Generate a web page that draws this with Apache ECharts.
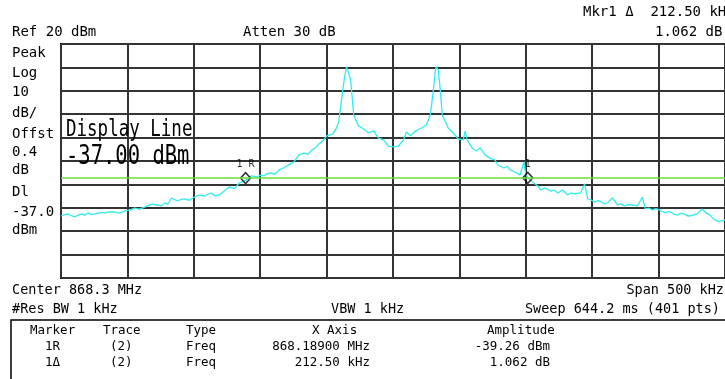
<!DOCTYPE html>
<html>
<head>
<meta charset="utf-8">
<title>Spectrum</title>
<script src="https://cdn.jsdelivr.net/npm/echarts@6/dist/echarts.min.js"></script>
<style>
  html, body { margin: 0; padding: 0; background: #fff; }
  #main { width: 725px; height: 379px; }
</style>
</head>
<body>
<div id="main"></div>
<script>
// trace 2 : frequency offset from start (868.05 MHz), kHz
var freqKHz = [0, 2.5, 5.2, 7.8, 10.5, 13, 15.7, 18, 20.2, 23, 25.5, 29, 33, 36.5, 40.5, 44, 48, 51.5, 55.5, 59,
    63, 68.2, 72.7, 75.5, 78, 80.5, 83.2, 87.7, 90.5, 93, 96.5, 100.5, 104, 108, 110.5, 113.2, 116, 119.2, 123,
    126.7, 130.5, 134.2, 139.4, 143.2, 147.7, 150.5, 153, 155.5, 158.2, 161, 164.2, 167, 170.2, 175.4, 179.2,
    182.9, 186, 188.9, 191.5, 194.2, 197, 200.1, 204.6, 207, 209.1, 211.4, 213.6, 215.1, 216.6, 218.1, 220.4,
    224.1, 227.9, 231.6, 235.4, 239.1, 242.9, 246.6, 250.4, 254.1, 257.9, 260.1, 263.1, 266.9, 271.4, 275.1,
    278.1, 280.4, 281.9, 282.6, 284.1, 285.6, 287.1, 291.6, 295.4, 299.1, 302.9, 304.3, 305.8, 309.6, 312.6,
    315.6, 319.3, 323.8, 326.5, 329.1, 333.6, 336, 338.1, 341.8, 345.6, 348.6, 350.1, 353.1, 356.9, 359, 361.3,
    364, 366.6, 369, 371.1, 374.1, 377.8, 381.6, 384, 386.8, 391.3, 394.3, 396.6, 399, 401.8, 404.5, 407, 409,
    411.5, 415.3, 419, 421.5, 424.3, 427, 430.3, 434, 437.8, 440, 442.5, 445.3, 448, 450.5, 453, 455, 457.5,
    460.3, 462, 464, 466.5, 469.3, 471.5, 473.8, 476.5, 479, 482.8, 485.8, 488.8, 490.5, 492.5, 495, 497.8, 500];
// trace 2 : level, dBm
var levelDbm = [-53.5, -53, -52.6, -53.4, -53.9, -53.1, -52.6, -53.2, -52.2, -52.9, -52.6, -52.1, -52.2, -51.7,
    -51.8, -52.3, -51.4, -51, -50.1, -50.6, -49.7, -48.4, -48.8, -49.2, -47.9, -48.5, -45.8, -47.1, -46.4,
    -46.2, -46.8, -45.4, -44.6, -45, -44.2, -43.7, -44.9, -44.5, -42.8, -41.1, -41.8, -39.4, -38.1, -36.4,
    -36.8, -36, -36.4, -35.4, -35.1, -35.7, -33.8, -33.1, -32.1, -30.4, -27.4, -26.6, -27.2, -25.3, -24.4,
    -22.7, -21.5, -19.3, -18.5, -16.4, -13.3, -3.1, 6.3, 10.2, 10.2, 4.6, -10.3, -15, -16.3, -18, -17.1, -20.2,
    -21, -23.6, -24, -23.6, -21, -17.6, -19.2, -17.2, -15.9, -14.6, -10.3, 0.3, 8.9, 10.2, 8.9, 0.3, -10.3,
    -15.9, -18, -20.6, -21, -17.2, -21, -24.4, -25.7, -24.4, -27.4, -29.1, -29.4, -31.7, -33, -32.3, -33.8,
    -34.7, -36, -30.4, -36, -38.1, -39.8, -40.6, -42.4, -41.6, -42, -42.9, -42.4, -43.7, -42.4, -44.5, -43.7,
    -44, -43.6, -39.8, -46.2, -46.6, -47.5, -46.9, -47.5, -48.3, -47.9, -45.8, -48.8, -48.3, -49.2, -48.6,
    -48.8, -49.2, -45.4, -50.5, -50.1, -50.9, -50.4, -50.9, -51.6, -52.2, -51.6, -52.2, -52.8, -53.1, -52.4,
    -52.6, -53.4, -53.5, -53, -52.6, -50.5, -52.2, -53.1, -54.2, -55.2, -55.8, -55.6, -55.2];

// markers (kHz offset, dBm as drawn) and their labels
var markerKHz = [139, 351.5];
var markerDbm = [-37.3, -37.2];
var markerNames = ['1 R', '1'];
var displayLine = -37;

var traceData = [];
for (var i = 0; i < freqKHz.length; i++) {
    traceData.push([freqKHz[i], levelDbm[i]]);
}
var markerData = [];
for (var j = 0; j < markerKHz.length; j++) {
    markerData.push({ value: [markerKHz[j], markerDbm[j]], name: markerNames[j] });
}

var MONO = '"DejaVu Sans Mono", "Liberation Mono", monospace';

// [text, x, y, size, align]
var labels = [
    ['Mkr1 \u0394  212.50 kHz', 583, 12, 14, 'left'],
    ['1.062 dB', 655, 32, 14, 'left'],
    ['Ref 20 dBm', 12, 32, 14, 'left'],
    ['Atten 30 dB', 243, 32, 14, 'left'],
    ['Peak', 12, 53, 14, 'left'],
    ['Log', 12, 73, 14, 'left'],
    ['10', 12, 92, 14, 'left'],
    ['dB/', 12, 113, 14, 'left'],
    ['Offst', 12, 134, 14, 'left'],
    ['0.4', 12, 152, 14, 'left'],
    ['dB', 12, 170, 14, 'left'],
    ['Dl', 12, 192, 14, 'left'],
    ['-37.0', 12, 212, 14, 'left'],
    ['dBm', 12, 230, 14, 'left'],
    ['Center 868.3 MHz', 12, 290, 13.5, 'left'],
    ['Span 500 kHz', 724, 290, 13.5, 'right'],
    ['#Res BW 1 kHz', 12, 309, 13.5, 'left'],
    ['VBW 1 kHz', 331, 309, 13.5, 'left'],
    ['Sweep 644.2 ms (401 pts)', 720, 309, 13.5, 'right'],
    // marker table
    ['Marker', 30, 331, 12.5, 'left'],
    ['Trace', 103, 331, 12.5, 'left'],
    ['Type', 186, 331, 12.5, 'left'],
    ['X Axis', 312, 331, 12.5, 'left'],
    ['Amplitude', 487, 331, 12.5, 'left'],
    ['1R', 45, 347, 12.5, 'left'],
    ['(2)', 110, 347, 12.5, 'left'],
    ['Freq', 186, 347, 12.5, 'left'],
    ['868.18900 MHz', 370, 347, 12.5, 'right'],
    ['-39.26 dBm', 550, 347, 12.5, 'right'],
    ['1\u0394', 45, 363, 12.5, 'left'],
    ['(2)', 110, 363, 12.5, 'left'],
    ['Freq', 186, 363, 12.5, 'left'],
    ['212.50 kHz', 370, 363, 12.5, 'right'],
    ['1.062 dB', 550, 363, 12.5, 'right']
];

var graphics = [];
labels.forEach(function (l) {
    graphics.push({
        type: 'text', x: l[1], y: l[2], z: 10,
        style: { text: l[0], font: l[3] + 'px ' + MONO, fill: '#000', textAlign: l[4], textVerticalAlign: 'middle' }
    });
});
// big display line annotation, tall narrow font
graphics.push({
    type: 'text', x: 66, y: 130, scaleY: 1.35, z: 10,
    style: { text: 'Display Line', font: '17.5px ' + MONO, fill: '#000', textVerticalAlign: 'middle' }
});
graphics.push({
    type: 'text', x: 66, y: 157, scaleY: 1.3, z: 10,
    style: { text: '-37.00 dBm', font: '20.5px ' + MONO, fill: '#000', textVerticalAlign: 'middle' }
});
// marker table box
graphics.push({
    type: 'rect', z: 5,
    shape: { x: 11, y: 320, width: 730, height: 80 },
    style: { fill: 'none', stroke: '#000', lineWidth: 1.5 }
});

var myChart = echarts.init(document.getElementById('main'));
var option = {
    backgroundColor: '#fff',
    animation: false,
    grid: { left: 61, top: 44, width: 669, height: 234, show: true, borderColor: '#000', borderWidth: 2 },
    xAxis: {
        type: 'value', min: 0, max: 500, interval: 50,
        axisLine: { show: false }, axisTick: { show: false }, axisLabel: { show: false },
        splitLine: { show: true, lineStyle: { color: '#333', width: 2 } }
    },
    yAxis: {
        type: 'value', min: -80, max: 20, interval: 10,
        axisLine: { show: false }, axisTick: { show: false }, axisLabel: { show: false },
        splitLine: { show: true, lineStyle: { color: '#333', width: 2 } }
    },
    graphic: graphics,
    series: [
        {
            name: 'trace', type: 'line', data: traceData, symbol: 'none',
            lineStyle: { color: '#30EDED', width: 1.3 },
            markLine: {
                silent: true, symbol: 'none', label: { show: false },
                lineStyle: { color: '#6CDD3C', width: 1.5, type: 'solid' },
                data: [{ yAxis: displayLine }]
            },
            z: 3
        },
        {
            name: 'markers', type: 'scatter', data: markerData,
            symbol: 'diamond', symbolSize: [10, 11],
            itemStyle: { color: 'rgba(0,0,0,0)', borderColor: '#000', borderWidth: 1.5 },
            label: {
                show: true, position: 'top', distance: 2, formatter: '{b}',
                fontFamily: MONO, fontSize: 10, color: '#000'
            },
            z: 4
        }
    ]
};
myChart.setOption(option);
</script>
</body>
</html>
